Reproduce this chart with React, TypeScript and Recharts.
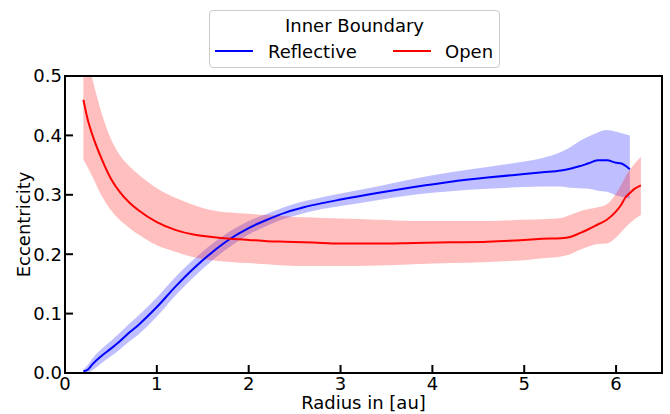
import React from "react";
import {
  ComposedChart,
  Line,
  Area,
  XAxis,
  YAxis,
  Legend,
  ReferenceArea,
} from "recharts";

// radius samples [au] shared by both runs
const radius = [
  0.2, 0.25, 0.3, 0.4, 0.5, 0.6, 0.7, 0.8, 1.0, 1.2, 1.4, 1.6, 1.8, 2.0, 2.2,
  2.4, 2.6, 2.8, 3.0, 3.4, 3.8, 4.2, 4.6, 5.0, 5.2, 5.4, 5.5, 5.6, 5.7, 5.8,
  5.9, 6.0, 6.05, 6.1, 6.15, 6.2, 6.27,
];

// reflective inner boundary (blue)
const reflectiveMean = [
  0.003, 0.006, 0.015, 0.029, 0.041, 0.054, 0.068, 0.081, 0.111, 0.145, 0.176,
  0.203, 0.226, 0.244, 0.258, 0.27, 0.279, 0.286, 0.292, 0.303, 0.313, 0.322,
  0.329, 0.335, 0.338, 0.341, 0.344, 0.348, 0.353, 0.358, 0.358, 0.354, 0.353,
  0.349, 0.343, null, null,
];
const reflectiveLow = [
  0.0, 0.0, 0.005, 0.017, 0.028, 0.04, 0.053, 0.065, 0.095, 0.13, 0.161, 0.189,
  0.213, 0.233, 0.248, 0.26, 0.269, 0.276, 0.281, 0.291, 0.3, 0.306, 0.31,
  0.313, 0.314, 0.314, 0.312, 0.311, 0.31, 0.307, 0.305, 0.299, 0.297, 0.295,
  0.293, null, null,
];
const reflectiveHigh = [
  0.006, 0.014, 0.025, 0.041, 0.054, 0.068, 0.083, 0.097, 0.127, 0.161, 0.191,
  0.217, 0.239, 0.256, 0.268, 0.28, 0.289, 0.296, 0.302, 0.314, 0.327, 0.338,
  0.347, 0.356, 0.362, 0.372, 0.38, 0.39, 0.398, 0.405, 0.409, 0.406, 0.404,
  0.402, 0.4, null, null,
];

// open inner boundary (red)
const openMean = [
  0.46, 0.425, 0.4, 0.36, 0.327, 0.304, 0.287, 0.274, 0.254, 0.241, 0.233,
  0.229, 0.226, 0.224, 0.222, 0.221, 0.22, 0.219, 0.218, 0.218, 0.219, 0.22,
  0.221, 0.224, 0.226, 0.227, 0.229, 0.235, 0.242, 0.25, 0.258, 0.272, 0.282,
  0.295, 0.303, 0.31, 0.316,
];
const openLow = [
  0.36, 0.345, 0.33, 0.298, 0.274, 0.257, 0.244, 0.233, 0.215, 0.204, 0.195,
  0.19, 0.187, 0.185, 0.183, 0.181, 0.18, 0.18, 0.18, 0.181, 0.183, 0.185,
  0.187, 0.19, 0.193, 0.196, 0.2, 0.207, 0.213, 0.217, 0.218, 0.228, 0.236,
  0.245, 0.252, 0.259, 0.266,
];
const openHigh = [
  0.56, 0.525, 0.494, 0.437, 0.394, 0.366, 0.348, 0.334, 0.311, 0.295, 0.283,
  0.274, 0.27, 0.268, 0.266, 0.264, 0.262, 0.261, 0.26, 0.258, 0.256, 0.256,
  0.256, 0.258, 0.259, 0.261, 0.266, 0.272, 0.276, 0.279, 0.284, 0.302, 0.315,
  0.33, 0.342, 0.352, 0.364,
];

const xTicks = [0, 1, 2, 3, 4, 5, 6];
const yTicks = [0, 0.1, 0.2, 0.3, 0.4, 0.5];

const FONT = "'DejaVu Sans', sans-serif";
const BLUE = "#0000ff";
const RED = "#ff0000";

const data = radius.map((r, i) => ({
  r,
  reflective: reflectiveMean[i],
  reflectiveBand:
    reflectiveMean[i] == null ? null : [reflectiveLow[i], reflectiveHigh[i]],
  open: openMean[i],
  openBand: openMean[i] == null ? null : [openLow[i], openHigh[i]],
}));

// ticks point into the plot, matplotlib style
const XTick = (props: any) => {
  const { x, y, payload } = props;
  return (
    <g>
      <line x1={x} x2={x} y1={y} y2={y - 8} stroke="#000" strokeWidth={2} />
      <text x={x} y={y + 17} textAnchor="middle" fontSize={18} fontFamily={FONT} fill="#000">
        {payload.value}
      </text>
    </g>
  );
};

const YTick = (props: any) => {
  const { x, y, payload } = props;
  return (
    <g>
      <line x1={x} x2={x + 8} y1={y} y2={y} stroke="#000" strokeWidth={2} />
      <text x={x - 3} y={y} dy="0.36em" textAnchor="end" fontSize={18} fontFamily={FONT} fill="#000">
        {Number(payload.value).toFixed(1)}
      </text>
    </g>
  );
};

const BoundaryLegend = () => (
  <div
    style={{
      position: "relative",
      boxSizing: "border-box",
      width: 291,
      height: 58,
      border: "1px solid #cccccc",
      borderRadius: 4,
      background: "rgba(255,255,255,0.8)",
      fontFamily: FONT,
      fontSize: 18,
      lineHeight: "22px",
      color: "#000",
    }}
  >
    <div style={{ position: "absolute", left: 0, right: 0, top: 4, textAlign: "center" }}>
      Inner Boundary
    </div>
    <div style={{ position: "absolute", left: 5, top: 39, width: 38, borderTop: `2px solid ${BLUE}` }} />
    <div style={{ position: "absolute", left: 58, top: 30 }}>Reflective</div>
    <div style={{ position: "absolute", left: 183, top: 39, width: 38, borderTop: `2px solid ${RED}` }} />
    <div style={{ position: "absolute", left: 235, top: 30 }}>Open</div>
  </div>
);

export default function App() {
  return (
    <div style={{ position: "absolute", left: 0, top: 0, width: 670, height: 414, background: "#fff" }}>
      <ComposedChart
        width={670}
        height={414}
        data={data}
        margin={{ top: 76, right: 8, bottom: 0, left: 0 }}
      >
        <XAxis
          dataKey="r"
          type="number"
          domain={[0, 6.5]}
          ticks={xTicks}
          allowDataOverflow
          axisLine={false}
          tickLine={false}
          tickSize={0}
          tickMargin={0}
          tick={XTick}
          height={41}
          label={{
            value: "Radius in [au]",
            position: "insideBottom",
            offset: 5,
            fontSize: 18,
            fontFamily: FONT,
            fill: "#000",
          }}
        />
        <YAxis
          type="number"
          domain={[0, 0.5]}
          ticks={yTicks}
          allowDataOverflow
          axisLine={false}
          tickLine={false}
          tickSize={0}
          tickMargin={0}
          tick={YTick}
          width={65}
          label={{
            value: "Eccentricity",
            angle: -90,
            position: "center",
            dx: -9,
            fontSize: 18,
            fontFamily: FONT,
            fill: "#000",
          }}
        />
        <Legend
          layout="vertical"
          align="center"
          verticalAlign="middle"
          content={<BoundaryLegend />}
          wrapperStyle={{ left: 209, top: 10, width: 291, height: 58 }}
        />
        <Area
          type="monotone"
          dataKey="reflectiveBand"
          stroke="none"
          fill={BLUE}
          fillOpacity={0.25}
          dot={false}
          activeDot={false}
          isAnimationActive={false}
        />
        <Area
          type="monotone"
          dataKey="openBand"
          stroke="none"
          fill={RED}
          fillOpacity={0.25}
          dot={false}
          activeDot={false}
          isAnimationActive={false}
        />
        <Line
          type="monotone"
          dataKey="reflective"
          stroke={BLUE}
          strokeWidth={2}
          dot={false}
          activeDot={false}
          isAnimationActive={false}
        />
        <Line
          type="monotone"
          dataKey="open"
          stroke={RED}
          strokeWidth={2}
          dot={false}
          activeDot={false}
          isAnimationActive={false}
        />
        <ReferenceArea
          x1={0}
          x2={6.5}
          y1={0}
          y2={0.5}
          fill="none"
          stroke="#000"
          strokeWidth={2}
          ifOverflow="visible"
        />
      </ComposedChart>
    </div>
  );
}
